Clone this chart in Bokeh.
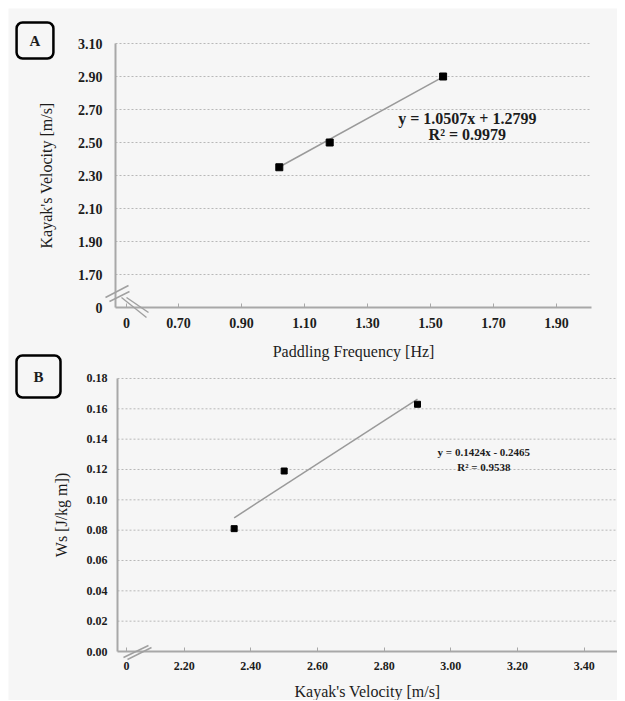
from bokeh.plotting import figure
from bokeh.models import (Range1d, FixedTicker, PrintfTickFormatter, Label, Arrow, LinearAxis)
from bokeh.embed import file_html
from bokeh.resources import INLINE

# ---------------- data ----------------
# Panel A
freq_a = [1.02, 1.18, 1.54]          # paddling frequency [Hz]
vel_a = [2.35, 2.50, 2.90]           # kayak velocity [m/s]
slope_a, icpt_a = 1.0507, 1.2799
eq_a = "y = 1.0507x + 1.2799"
r2_a = "R² = 0.9979"
xticks_a = [0.535, 0.70, 0.90, 1.10, 1.30, 1.50, 1.70, 1.90]
yticks_a = [1.50, 1.70, 1.90, 2.10, 2.30, 2.50, 2.70, 2.90, 3.10]
xbounds_a = (0.50, 2.01)
ybounds_a = (1.50, 3.10)

# Panel B
vel_b = [2.35, 2.50, 2.90]           # kayak velocity [m/s]
ws_b = [0.081, 0.119, 0.163]         # Ws [J/kg m]
slope_b, icpt_b = 0.1424, -0.2465
eq_b = "y = 0.1424x - 0.2465"
r2_b = "R² = 0.9538"
xticks_b = [2.027, 2.20, 2.40, 2.60, 2.80, 3.00, 3.20, 3.40]
yticks_b = [0.00, 0.02, 0.04, 0.06, 0.08, 0.10, 0.12, 0.14, 0.16, 0.18]
xbounds_b = (2.00, 3.50)
ybounds_b = (0.00, 0.18)

BG = "#f6f6f6"
AXIS = "#a8a8a8"
GRID = "#b8b8b8"
TXT = "#1c1c1c"
SERIF = "Liberation Serif"
W, H = 609, 692
OX, OY = 8, 8  # page offset of the figure


def ranges_for(ax_left, ax_bottom, px_x, px_y, xb, yb):
    """Data ranges so that the axis origin (xb[0], yb[0]) lands on page px (ax_left, ax_bottom)."""
    x0 = xb[0] - (ax_left - OX) / px_x
    x1 = xb[0] + (OX + W - ax_left) / px_x
    y0 = yb[0] - (OY + H - ax_bottom) / px_y
    y1 = yb[0] + (ax_bottom - OY) / px_y
    return Range1d(x0, x1), Range1d(y0, y1)


xrA, yrA = ranges_for(115, 307, 315.0, 165.0, xbounds_a, ybounds_a)
xrB, yrB = ranges_for(117, 651, 333.33, 1516.7, xbounds_b, ybounds_b)

p = figure(width=W, height=H, output_backend="svg", toolbar_location=None,
           x_range=xrA, y_range=yrA, x_axis_location=None, y_axis_location=None,
           min_border=0, min_border_left=0, min_border_right=0,
           min_border_top=0, min_border_bottom=0)
p.extra_x_ranges = {"xb": xrB}
p.extra_y_ranges = {"yb": yrB}
p.background_fill_color = BG
p.border_fill_color = BG
p.outline_line_color = None
p.grid.visible = False

RA = dict(x_range_name="default", y_range_name="default")
RB = dict(x_range_name="xb", y_range_name="yb")


def axes(rn, xb, yb, xt, yt, tick_fs, label_fs, xlab, ylab,
         xt_sd, xl_sd, yt_sd, yl_sd, xover, yover):
    xa = LinearAxis(fixed_location=yb[0], bounds=xb, axis_label=xlab, **rn)
    ya = LinearAxis(fixed_location=xb[0], bounds=yb, axis_label=ylab, **rn)
    for ax in (xa, ya):
        ax.axis_line_color = AXIS
        ax.axis_line_width = 2
        ax.major_tick_line_color = AXIS
        ax.minor_tick_line_color = None
        ax.major_label_text_font = SERIF
        ax.major_label_text_font_style = "bold"
        ax.major_label_text_font_size = f"{tick_fs}px"
        ax.major_label_text_color = TXT
        ax.axis_label_text_font = SERIF
        ax.axis_label_text_font_style = "normal"
        ax.axis_label_text_font_size = f"{label_fs}px"
        ax.axis_label_text_color = TXT
        ax.formatter = PrintfTickFormatter(format="%.2f")
    xa.ticker = FixedTicker(ticks=xt)
    ya.ticker = FixedTicker(ticks=yt)
    xa.major_tick_in = 4
    xa.major_tick_out = 0
    xa.major_label_standoff = xt_sd
    xa.axis_label_standoff = xl_sd
    ya.major_tick_in = 0
    ya.major_tick_out = 0
    ya.major_label_standoff = yt_sd
    ya.axis_label_standoff = yl_sd
    if xover:
        xa.major_label_overrides = xover
    if yover:
        ya.major_label_overrides = yover
    # dotted horizontal gridlines from the y axis to the end of the x axis
    gy = [v for v in yt if v > yb[0]]
    p.segment(x0=[xb[0]] * len(gy), y0=gy, x1=[xb[1]] * len(gy), y1=gy,
              line_color=GRID, line_dash="2 2", line_width=1, **rn)
    p.add_layout(xa, "below")
    p.add_layout(ya, "left")


def sxy(px, py):
    return px - OX, OY + H - py


def box_label(text, cx, cy, padx, pady):
    sx, sy = sxy(cx, cy)
    p.add_layout(Label(x=sx, y=sy, x_units="screen", y_units="screen", text=text,
                       text_font=SERIF, text_font_style="bold", text_font_size="15px",
                       text_color=TXT, text_align="center", text_baseline="middle",
                       background_fill_color=BG, border_line_color="black",
                       border_line_width=2.5, border_radius=6,
                       padding={"left": padx, "right": padx, "top": pady, "bottom": pady}))


def brk(ax0, ay0, ax1, ay1):
    s0 = sxy(ax0, ay0)
    s1 = sxy(ax1, ay1)
    p.add_layout(Arrow(x_start=s0[0], y_start=s0[1], x_end=s1[0], y_end=s1[1],
                       start_units="screen", end_units="screen", end=None, start=None,
                       line_color="#a0a0a0", line_width=1.5))


def eq_label(rn, x, y, text, fs):
    p.add_layout(Label(x=x, y=y, text=text, text_font=SERIF, text_font_style="bold",
                       text_font_size=f"{fs}px", text_color=TXT, text_align="center",
                       text_baseline="middle", **rn))


# ---------------- Panel A ----------------
axes(RA, xbounds_a, ybounds_a, xticks_a, yticks_a, 14, 16,
     "Paddling Frequency [Hz]", "Kayak's Velocity [m/s]",
     10, 12, 13, 20, {xticks_a[0]: "0"}, {yticks_a[0]: "0"})
xa_fit = [min(freq_a), max(freq_a)]
p.line(xa_fit, [slope_a * v + icpt_a for v in xa_fit], line_color="#9a9a9a",
       line_width=1.5, **RA)
p.scatter(freq_a, vel_a, marker="square", size=7, fill_color="black",
          line_color="black", **RA)
eq_label(RA, 1.617, 2.645, eq_a, 16)
eq_label(RA, 1.617, 2.548, r2_a, 16)
box_label("A", 34.5, 40, 13, 10)
brk(105, 297, 128, 285)
brk(109, 301, 129, 291)
brk(121, 297, 146, 317)
brk(126, 297, 148, 312)

# ---------------- Panel B ----------------
axes(RB, xbounds_b, ybounds_b, xticks_b, yticks_b, 12, 16,
     "Kayak's Velocity [m/s]", "Ws [J/kg m])",
     10, 10, 10, 14, {xticks_b[0]: "0"}, None)
xb_fit = [min(vel_b), max(vel_b)]
p.line(xb_fit, [slope_b * v + icpt_b for v in xb_fit], line_color="#9a9a9a",
       line_width=1.5, **RB)
p.scatter(vel_b, ws_b, marker="square", size=6, fill_color="black",
          line_color="black", **RB)
eq_label(RB, 3.099, 0.1313, eq_b, 11)
eq_label(RB, 3.099, 0.1214, r2_b, 11)
box_label("B", 38, 376, 17, 13)
brk(123, 657, 148, 645)
brk(127, 659, 151, 647)

p.margin = (OY, 0, 0, OX)
open("out.html", "w").write(file_html(p, INLINE))
